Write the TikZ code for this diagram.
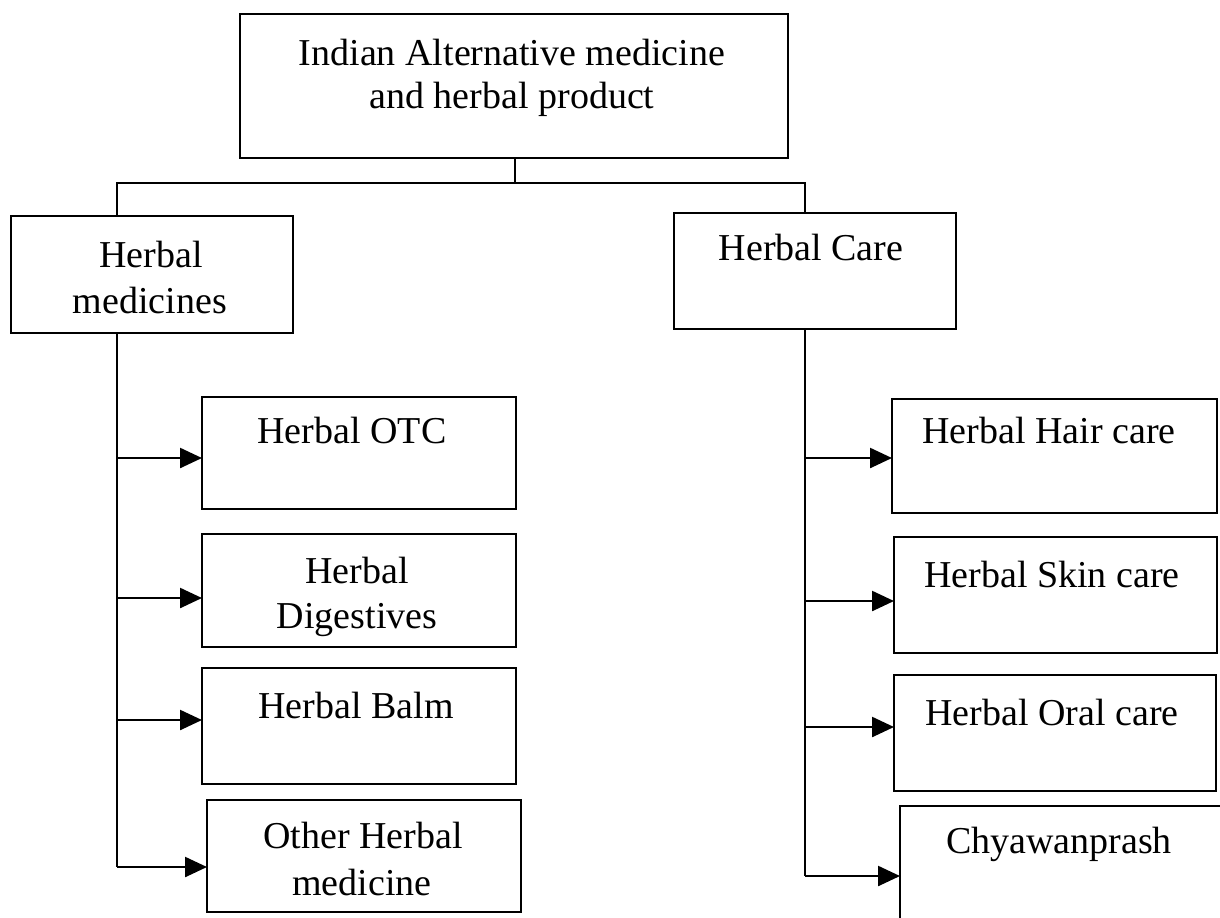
\documentclass[tikz,border=0pt]{standalone}
\usepackage{fontspec}
\setmainfont{Liberation Serif}
\usetikzlibrary{arrows.meta}
\begin{document}
\begin{tikzpicture}[x=0.5pt,y=-0.5pt,
  box/.style={draw, line width=1.3pt, inner sep=0pt, outer sep=0pt},
  lbl/.style={anchor=base, inner sep=0pt, font=\fontsize{19}{22}\selectfont},
  conn/.style={line width=1.2pt},
  arr/.style={conn, -{Triangle[length=11pt,width=10pt]}}]
\clip (0,0) rectangle (1220,917);
\fill[white] (0,0) rectangle (1220,917);
% boxes
\node[box, minimum width=274pt, minimum height=72pt] (top) at (514,86) {};
\node[box, minimum width=141pt, minimum height=58.5pt] (hm) at (152,274.5) {};
\node[box, minimum width=141pt, minimum height=58pt] (hc) at (815,271) {};
\node[box, minimum width=157pt, minimum height=56pt] (otc) at (359,453) {};
\node[box, minimum width=157pt, minimum height=56.5pt] (dig) at (359,590.5) {};
\node[box, minimum width=157pt, minimum height=58pt] (balm) at (359,726) {};
\node[box, minimum width=157pt, minimum height=56pt] (oth) at (364,856) {};
\node[box, minimum width=162.5pt, minimum height=57pt] (hair) at (1054.5,456) {};
\node[box, minimum width=161.5pt, minimum height=58pt] (skin) at (1055.5,595) {};
\node[box, minimum width=161pt, minimum height=58pt] (oral) at (1055,733) {};
\node[box, minimum width=165pt, minimum height=60pt] (chy) at (1065,866) {};
% labels
\node[lbl] (t1) at (512,65) {Indian Alternative medicine};
\node[lbl] (t2) at (512,108) {and herbal product};
\node[lbl] (hm1) at (151,267) {Herbal};
\node[lbl] (hm2) at (150,313) {medicines};
\node[lbl] (hc1) at (811,260) {Herbal Care};
\node[lbl] (otc1) at (352,443) {Herbal OTC};
\node[lbl] (dig1) at (357,583) {Herbal};
\node[lbl] (dig2) at (357,628) {Digestives};
\node[lbl] (balm1) at (356,718) {Herbal Balm};
\node[lbl] (oth1) at (363,848) {Other Herbal};
\node[lbl] (oth2) at (362,895) {medicine};
\node[lbl] (hair1) at (1049,443) {Herbal Hair care};
\node[lbl] (skin1) at (1052,587) {Herbal Skin care};
\node[lbl] (oral1) at (1052,725) {Herbal Oral care};
\node[lbl] (chy1) at (1059,853) {Chyawanprash};
% connector coordinates
\coordinate (j) at (515,183);
\coordinate (jl) at (117,183);
\coordinate (jr) at (805,183);
\coordinate (hmt) at (117,216);
\coordinate (hct) at (805,213);
\coordinate (lt0) at (117,333);
\coordinate (l1) at (117,458);
\coordinate (l2) at (117,598);
\coordinate (l3) at (117,720);
\coordinate (l4) at (117,867);
\coordinate (rt0) at (805,329);
\coordinate (r1) at (805,458);
\coordinate (r2) at (805,601);
\coordinate (r3) at (805,727);
\coordinate (r4) at (805,876);
% connectors
\draw[conn] (top.south -| j) -- (j);
\draw[conn] (hmt) -- (jl) -- (jr) -- (hct);
\draw[conn] (lt0) -- (l4);
\draw[conn] (rt0) -- (r4);
\draw[arr] (l1) -- (l1 -| otc.west);
\draw[arr] (l2) -- (l2 -| dig.west);
\draw[arr] (l3) -- (l3 -| balm.west);
\draw[arr] (l4) -- (l4 -| oth.west);
\draw[arr] (r1) -- (r1 -| hair.west);
\draw[arr] (r2) -- (r2 -| skin.west);
\draw[arr] (r3) -- (r3 -| oral.west);
\draw[arr] (r4) -- (r4 -| chy.west);
\end{tikzpicture}
\end{document}
